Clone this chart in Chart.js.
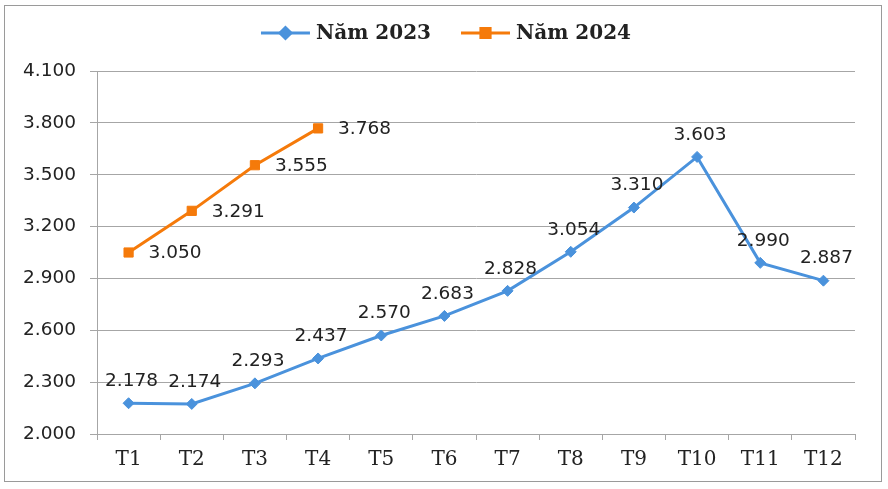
<!DOCTYPE html>
<html>
<head>
<meta charset="utf-8">
<script src="https://cdn.jsdelivr.net/npm/chart.js@4/dist/chart.umd.min.js"></script>
<style>
  html, body { margin: 0; padding: 0; background: #fff; }
  #wrap { width: 888px; height: 489px; }
</style>
</head>
<body>
<div id="wrap"><canvas id="chart" width="888" height="489"></canvas></div>
<script>
// chart data
var months = ['T1', 'T2', 'T3', 'T4', 'T5', 'T6', 'T7', 'T8', 'T9', 'T10', 'T11', 'T12'];
var nam2023 = [2178, 2174, 2293, 2437, 2570, 2683, 2828, 3054, 3310, 3603, 2990, 2887];
var nam2024 = [3050, 3291, 3555, 3768];
var seriesNames = ['Năm 2023', 'Năm 2024'];
var yMin = 2000, yMax = 4100, yStep = 300;

var blue = '#4a92dc';
var orange = '#f57a0a';
var textColor = '#222222';
var gridColor = '#a6a6a6';

function fmt(v) {
    return String(v).replace(/\B(?=(\d{3})+(?!\d))/g, '.');
}

// gray frame around the whole chart
var framePlugin = {
    id: 'frame',
    beforeDraw: function(chart) {
        var ctx = chart.ctx;
        ctx.save();
        ctx.strokeStyle = '#9a9a9a';
        ctx.lineWidth = 1;
        ctx.strokeRect(4.5, 5.5, 877, 476);
        ctx.restore();
    }
};

// legend: line with marker, then text
var legendPlugin = {
    id: 'lineLegend',
    afterDraw: function(chart) {
        var ctx = chart.ctx;
        ctx.save();
        ctx.font = 'bold 20px "DejaVu Serif"';
        var lineW = 49, gap = 6, itemGap = 30, y = 33;
        var widths = chart.data.datasets.map(function(ds) {
            return lineW + gap + ctx.measureText(ds.label).width;
        });
        var total = widths.reduce(function(a, b) { return a + b; }, 0) + itemGap * (widths.length - 1);
        var x = 446 - total / 2;
        chart.data.datasets.forEach(function(ds, i) {
            ctx.strokeStyle = ds.borderColor;
            ctx.lineWidth = 3;
            ctx.beginPath();
            ctx.moveTo(x, y);
            ctx.lineTo(x + lineW, y);
            ctx.stroke();
            Chart.helpers.drawPoint(ctx, {
                pointStyle: ds.pointStyle,
                radius: ds.pointRadius,
                borderWidth: 1
            }, x + lineW / 2, y);
            ctx.fillStyle = ds.borderColor;
            ctx.strokeStyle = ds.borderColor;
            ctx.fill();
            ctx.fillStyle = textColor;
            ctx.textBaseline = 'middle';
            ctx.textAlign = 'left';
            ctx.fillText(ds.label, x + lineW + gap, y + 1);
            x += widths[i] + itemGap;
        });
        ctx.restore();
    }
};

// value labels
var valuePlugin = {
    id: 'valueLabels',
    afterDatasetsDraw: function(chart) {
        var ctx = chart.ctx;
        ctx.save();
        ctx.font = '18.5px "DejaVu Sans"';
        ctx.fillStyle = textColor;
        ctx.textBaseline = 'middle';
        chart.data.datasets.forEach(function(ds, i) {
            var meta = chart.getDatasetMeta(i);
            meta.data.forEach(function(pt, j) {
                var txt = fmt(ds.data[j]);
                if (i === 0) {
                    ctx.textAlign = 'center';
                    ctx.fillText(txt, pt.x + 3, pt.y - 22);
                } else {
                    ctx.textAlign = 'left';
                    ctx.fillText(txt, pt.x + 20, pt.y + 1);
                }
            });
        });
        ctx.restore();
    }
};

var ctx = document.getElementById('chart').getContext('2d');
new Chart(ctx, {
    type: 'line',
    data: {
        labels: months,
        datasets: [{
            label: seriesNames[0],
            data: nam2023,
            borderColor: blue,
            backgroundColor: blue,
            borderWidth: 3,
            pointStyle: 'rectRot',
            pointRadius: 5.5,
            pointBorderWidth: 1,
            tension: 0,
            fill: false
        }, {
            label: seriesNames[1],
            data: nam2024,
            borderColor: orange,
            backgroundColor: orange,
            borderWidth: 3,
            pointStyle: 'rect',
            pointRadius: 6.5,
            pointBorderWidth: 1,
            tension: 0,
            fill: false
        }]
    },
    options: {
        responsive: false,
        animation: false,
        devicePixelRatio: 1,
        layout: { padding: { left: 0, right: 33, top: 71, bottom: 0 } },
        plugins: {
            legend: { display: false },
            tooltip: { enabled: false }
        },
        scales: {
            x: {
                offset: true,
                grid: {
                    offset: true,
                    drawOnChartArea: false,
                    drawTicks: true,
                    tickLength: 6,
                    color: gridColor
                },
                border: { color: gridColor, width: 1 },
                ticks: {
                    color: textColor,
                    font: { family: '"DejaVu Serif"', size: 20 },
                    padding: 8,
                    maxRotation: 0,
                    autoSkip: false
                },
                afterFit: function(scale) { scale.height = 55; }
            },
            y: {
                min: yMin,
                max: yMax,
                grid: {
                    color: gridColor,
                    tickLength: 7,
                    lineWidth: 1
                },
                border: { color: gridColor, width: 1 },
                ticks: {
                    stepSize: yStep,
                    color: textColor,
                    font: { family: '"DejaVu Sans"', size: 18.5 },
                    padding: 14,
                    callback: function(v) { return fmt(v); }
                },
                afterFit: function(scale) { scale.width = 97; }
            }
        }
    },
    plugins: [framePlugin, valuePlugin, legendPlugin]
});
</script>
</body>
</html>
